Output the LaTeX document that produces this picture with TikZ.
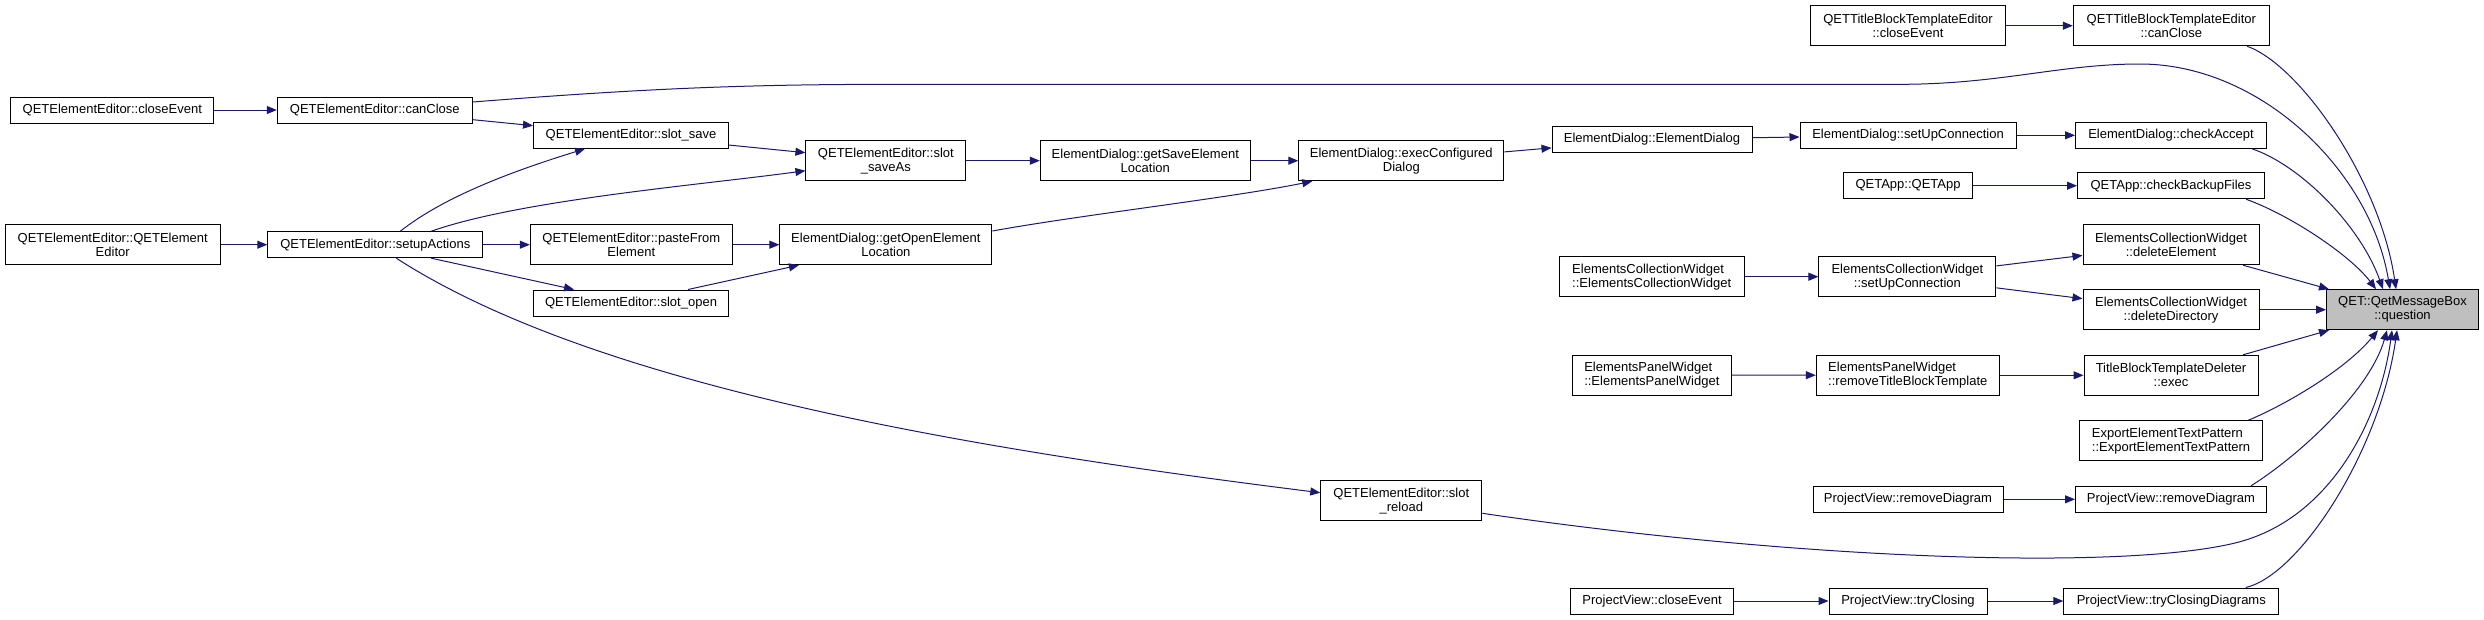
\documentclass[tikz,border=0pt]{standalone}
\usepackage{fontspec}
\setmainfont{Liberation Sans}
\usetikzlibrary{arrows.meta,calc}
\definecolor{edgeblue}{RGB}{25,25,112}
\definecolor{qgray}{RGB}{191,191,191}
\begin{document}
\begin{tikzpicture}[x=1pt,y=-1pt,
 box/.style={draw=black, line width=1pt, fill=white, inner sep=0pt, align=center, font=\fontsize{13}{14}\selectfont},
 lbox/.style={box, align=left},
 edge/.style={draw=edgeblue, line width=1pt, -{Triangle[length=10pt,width=8pt]}}]
\useasboundingbox (0,0) rectangle (2484,619);
% nodes
\node[box,minimum width=203pt,minimum height=26pt] (a1) at (112.3,110) {QETElementEditor::closeEvent};
\node[box,minimum width=215pt,minimum height=40pt] (a2) at (112.7,244.7) {QETElementEditor::QETElement\\Editor};
\node[box,minimum width=195pt,minimum height=26pt] (b1) at (374.8,110) {QETElementEditor::canClose};
\node[box,minimum width=215pt,minimum height=26pt] (b2) at (375.3,244.7) {QETElementEditor::setupActions};
\node[box,minimum width=195pt,minimum height=26pt] (c1) at (631,135.3) {QETElementEditor::slot\_save};
\node[box,minimum width=202pt,minimum height=40pt] (c2) at (631.3,244.7) {QETElementEditor::pasteFrom\\Element};
\node[box,minimum width=195pt,minimum height=26pt] (c3) at (631,303) {QETElementEditor::slot\_open};
\node[box,minimum width=160pt,minimum height=40pt] (d1) at (885.9,160.7) {QETElementEditor::slot\\\_saveAs};
\node[box,minimum width=212pt,minimum height=40pt] (d2) at (885.9,244.7) {ElementDialog::getOpenElement\\Location};
\node[box,minimum width=210pt,minimum height=40pt] (e1) at (1145.3,160.7) {ElementDialog::getSaveElement\\Location};
\node[box,minimum width=205pt,minimum height=40pt] (f1) at (1401.3,160.7) {ElementDialog::execConfigured\\Dialog};
\node[box,minimum width=161pt,minimum height=40pt] (f2) at (1401.3,500.7) {QETElementEditor::slot\\\_reload};
\node[box,minimum width=200pt,minimum height=26pt] (g1) at (1652,139.3) {ElementDialog::ElementDialog};
\node[lbox,minimum width=185pt,minimum height=40pt] (g2) at (1651.7,276.7) {ElementsCollectionWidget\\::ElementsCollectionWidget};
\node[lbox,minimum width=159pt,minimum height=40pt] (g3) at (1651.8,375) {ElementsPanelWidget\\::ElementsPanelWidget};
\node[box,minimum width=163pt,minimum height=26pt] (g4) at (1652,601) {ProjectView::closeEvent};
\node[box,minimum width=195pt,minimum height=40pt] (h0) at (1908,25.7) {QETTitleBlockTemplateEditor\\::closeEvent};
\node[box,minimum width=216pt,minimum height=26pt] (h1) at (1908,135.3) {ElementDialog::setUpConnection};
\node[box,minimum width=129pt,minimum height=26pt] (h2) at (1908,185.7) {QETApp::QETApp};
\node[box,minimum width=177pt,minimum height=40pt] (h3) at (1907.4,276.7) {ElementsCollectionWidget\\::setUpConnection};
\node[lbox,minimum width=183pt,minimum height=40pt] (h4) at (1907.8,375.3) {ElementsPanelWidget\\::removeTitleBlockTemplate};
\node[box,minimum width=190pt,minimum height=26pt] (h5) at (1908,499.3) {ProjectView::removeDiagram};
\node[box,minimum width=158pt,minimum height=26pt] (h6) at (1908,601) {ProjectView::tryClosing};
\node[box,minimum width=196pt,minimum height=40pt] (i0) at (2171.3,25.7) {QETTitleBlockTemplateEditor\\::canClose};
\node[box,minimum width=191pt,minimum height=26pt] (i1) at (2171,135.3) {ElementDialog::checkAccept};
\node[box,minimum width=187pt,minimum height=26pt] (i2) at (2171,185.7) {QETApp::checkBackupFiles};
\node[box,minimum width=176pt,minimum height=40pt] (i3) at (2171,244.7) {ElementsCollectionWidget\\::deleteElement};
\node[box,minimum width=176pt,minimum height=40pt] (i4) at (2171,309.7) {ElementsCollectionWidget\\::deleteDirectory};
\node[box,minimum width=174pt,minimum height=40pt] (i5) at (2171,375.3) {TitleBlockTemplateDeleter\\::exec};
\node[lbox,minimum width=183pt,minimum height=40pt] (i6) at (2171,440.7) {ExportElementTextPattern\\::ExportElementTextPattern};
\node[box,minimum width=191pt,minimum height=26pt] (i7) at (2171,499.3) {ProjectView::removeDiagram};
\node[box,minimum width=215pt,minimum height=26pt] (i8) at (2171.3,601) {ProjectView::tryClosingDiagrams};
\node[box,fill=qgray,minimum width=152pt,minimum height=40pt] (q) at (2402.5,309.7) {QET::QetMessageBox\\::question};
% edges
\draw[edge] (a1) -- (b1);
\draw[edge] (a2) -- (b2);
\draw[edge] (b1) -- (c1);
\draw[edge] ($(b1.east)+(0,-8)$) .. controls (650,88) and (750,84.3) .. (900,84.3) -- (1900,84.3) .. controls (2000,84.3) and (2060,64) .. (2140,64) .. controls (2260,64) and (2370,170) .. ($(q.north)+(-12.5,0)$);
\draw[edge] (c1) -- (d1);
\draw[edge] ($(b2.north)+(25,0)$) .. controls (440,200) and (500,175) .. ($(c1.south)+(-46,0)$);
\draw[edge] ($(b2.north)+(56,0)$) .. controls (520,200) and (700,185) .. ($(d1.west)+(0,10)$);
\draw[edge] (b2) -- (c2);
\draw[edge] ($(b2.south)+(56,0)$) -- ($(c3.north)+(-57,0)$);
\draw[edge] ($(b2.south)+(21,0)$) .. controls (596,387) and (971,449) .. ($(f2.west)+(0,-8)$);
\draw[edge] (c2) -- (d2);
\draw[edge] ($(c3.north)+(57,0)$) -- ($(d2.south)+(-87,0)$);
\draw[edge] (d1) -- (e1);
\draw[edge] (e1) -- (f1);
\draw[edge] ($(d2.east)+(0,-13.7)$) .. controls (1080,215) and (1230,198) .. ($(f1.south)+(-89,0)$);
\draw[edge] (f1) -- (g1);
\draw[edge] (g1) -- (h1);
\draw[edge] (h1) -- (i1);
\draw[edge] (h0) -- (i0);
\draw[edge] (h2) -- (i2);
\draw[edge] (g2) -- (h3);
\draw[edge] (h3) -- (i3);
\draw[edge] (h3) -- (i4);
\draw[edge] (g3) -- (h4);
\draw[edge] (h4) -- (i5);
\draw[edge] (h5) -- (i7);
\draw[edge] (g4) -- (h6);
\draw[edge] (h6) -- (i8);
\draw[edge] (i4) -- (q);
\draw[edge] ($(i0.south)+(75.7,0)$) .. controls (2300,65) and (2380,180) .. ($(q.north)+(-6.5,0)$);
\draw[edge] ($(i1.south)+(81,0)$) .. controls (2300,165) and (2360,225) .. ($(q.north)+(-19.5,0)$);
\draw[edge] ($(i2.south)+(75,0)$) .. controls (2290,215) and (2350,255) .. ($(q.north)+(-26.5,0)$);
\draw[edge] ($(i3.south)+(72,0)$) -- ($(q.north west)+(3,0)$);
\draw[edge] ($(i5.north)+(72,0)$) -- ($(q.south west)+(3,0)$);
\draw[edge] ($(i6.north)+(77.4,0)$) .. controls (2285,405) and (2345,370) .. ($(q.south)+(-24.5,0)$);
\draw[edge] ($(i7.north)+(80,0)$) .. controls (2300,455) and (2370,390) .. ($(q.south)+(-15.5,0)$);
\draw[edge] ($(f2.east)+(0,12.6)$) .. controls (1800,560) and (2121,570.6) .. (2235,543) .. controls (2330,520) and (2380,420) .. ($(q.south)+(-10.5,0)$);
\draw[edge] ($(i8.north)+(74.4,0)$) .. controls (2300,575) and (2380,450) .. ($(q.south)+(-5.5,0)$);
\end{tikzpicture}
\end{document}
